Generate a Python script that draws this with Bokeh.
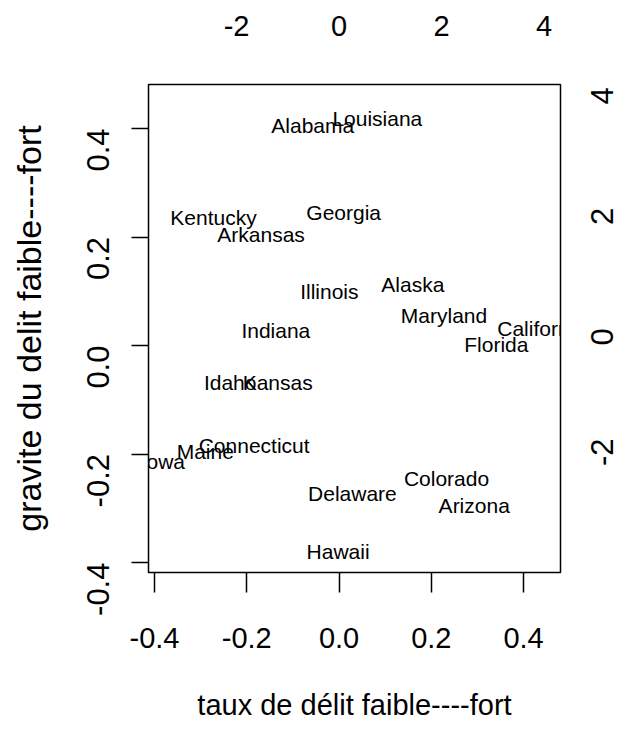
import math
from bokeh.plotting import figure
from bokeh.models import Range1d, LinearAxis, FixedTicker, NumeralTickFormatter, ColumnDataSource
from bokeh.core.properties import value
from bokeh.embed import file_html
from bokeh.resources import INLINE

# ---- data ----
states = ["Alabama", "Louisiana", "Kentucky", "Arkansas", "Georgia", "Illinois",
          "Alaska", "Maryland", "Indiana", "California", "Florida", "Idaho",
          "Kansas", "Connecticut", "Maine", "Iowa", "Delaware", "Colorado",
          "Arizona", "Hawaii"]
score_x = [-0.057, 0.083, -0.272, -0.169, 0.010, -0.021,
           0.160, 0.2275, -0.137, 0.439, 0.341, -0.236,
           -0.133, -0.184, -0.290, -0.382, 0.029, 0.233,
           0.293, -0.002]
score_y = [0.406, 0.418, 0.2365, 0.205, 0.246, 0.100,
           0.113, 0.055, 0.028, 0.031, 0.001, -0.069,
           -0.069, -0.185, -0.195, -0.213, -0.2725, -0.2445,
           -0.294, -0.379]
x_ticks = [-0.4, -0.2, 0.0, 0.2, 0.4]
y_ticks = [-0.4, -0.2, 0.0, 0.2, 0.4]
top_ticks = [-2, 0, 2, 4]
right_ticks = [-2, 0, 2, 4]
x_label = "taux de délit faible----fort"
y_label = "gravite du delit faible----fort"
x_lim = (-0.413, 0.480)
y_lim = (-0.4184, 0.4811)
ratio = 9.0  # scale of the secondary (variable) axes

SANS = "Liberation Sans"

p = figure(width=627, height=727, output_backend="svg", toolbar_location=None,
           x_range=Range1d(*x_lim), y_range=Range1d(*y_lim),
           x_axis_location=None, y_axis_location=None,
           min_border_left=148, min_border_right=66,
           min_border_top=84, min_border_bottom=155,
           background_fill_color="white", border_fill_color="white")
p.extra_x_ranges = {"top": Range1d(x_lim[0] * ratio, x_lim[1] * ratio)}
p.extra_y_ranges = {"right": Range1d(y_lim[0] * ratio, y_lim[1] * ratio)}
p.xgrid.grid_line_color = None
p.ygrid.grid_line_color = None
p.outline_line_color = "black"
p.outline_line_width = 1.5
p.outline_line_alpha = 1.0

def style(ax, size, tick_out, standoff, orient=None, ticks_visible=True):
    ax.axis_line_color = None
    ax.minor_tick_line_color = None
    ax.major_tick_in = 0
    ax.major_tick_out = tick_out
    ax.major_tick_line_width = 1.5
    ax.major_tick_line_color = "black" if ticks_visible else None
    ax.major_label_text_font = SANS
    ax.major_label_text_font_size = size
    ax.major_label_text_color = "black"
    ax.major_label_standoff = standoff
    if orient is not None:
        ax.major_label_orientation = orient

def style_label(ax, size, standoff):
    ax.axis_label_text_font = SANS
    ax.axis_label_text_font_size = size
    ax.axis_label_text_font_style = "normal"
    ax.axis_label_text_color = "black"
    ax.axis_label_standoff = standoff

bottom = LinearAxis(ticker=FixedTicker(ticks=x_ticks),
                    formatter=NumeralTickFormatter(format="0.0"),
                    axis_label=x_label)
style(bottom, "29px", 20, 35)
style_label(bottom, "29px", 38)
p.add_layout(bottom, "below")

left = LinearAxis(ticker=FixedTicker(ticks=y_ticks),
                  formatter=NumeralTickFormatter(format="0.0"),
                  axis_label=y_label)
style(left, "31px", 17, 33, orient=math.pi / 2)
style_label(left, "34px", 26)
p.add_layout(left, "left")

top = LinearAxis(x_range_name="top", ticker=FixedTicker(ticks=top_ticks),
                 formatter=NumeralTickFormatter(format="0"))
style(top, "29px", 0, 49, ticks_visible=False)
p.add_layout(top, "above")

right = LinearAxis(y_range_name="right", ticker=FixedTicker(ticks=right_ticks),
                   formatter=NumeralTickFormatter(format="0"))
style(right, "31px", 0, 42, orient=math.pi / 2, ticks_visible=False)
p.add_layout(right, "right")

src = ColumnDataSource(dict(x=score_x, y=score_y, name=states))
p.text(x="x", y="y", text="name", source=src,
       text_font=value(SANS), text_font_size="21px",
       text_align="center", text_baseline="middle", text_color="black")

open("out.html", "w").write(file_html(p, INLINE))
